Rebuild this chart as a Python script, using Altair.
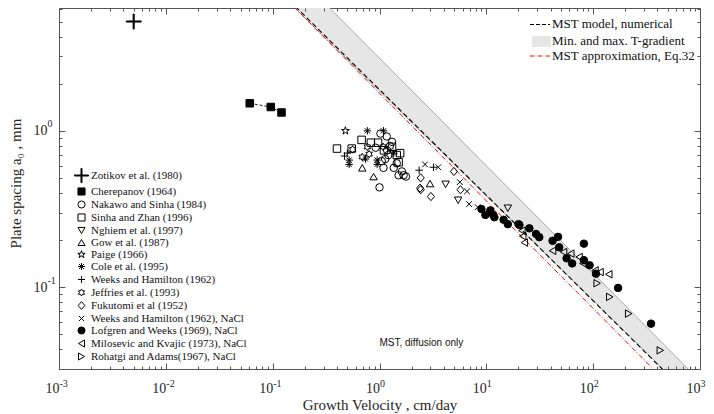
import altair as alt
import pandas as pd

SERIF = "Liberation Serif"
SANS = "Liberation Sans"

SERIES = [
    "Zotikov et al. (1980)", "Cherepanov (1964)", "Nakawo and Sinha (1984)",
    "Sinha and Zhan (1996)", "Nghiem et al. (1997)", "Gow et al. (1987)",
    "Paige (1966)", "Cole et al. (1995)", "Weeks and Hamilton (1962)",
    "Jeffries et al. (1993)", "Fukutomi et al (1952)",
    "Weeks and Hamilton (1962), NaCl", "Lofgren and Weeks (1969), NaCl",
    "Milosevic and Kvajic (1973), NaCl", "Rohatgi and Adams(1967), NaCl",
]

PLUS_BIG = "M-2,-0.14L2,-0.14L2,0.14L-2,0.14ZM-0.14,-2L0.14,-2L0.14,2L-0.14,2Z"
PLUS = "M-1,0L1,0M0,-1L0,1"
CROSS = "M-0.75,-0.75L0.75,0.75M-0.75,0.75L0.75,-0.75"
ASTER = "M-1,0L1,0M0,-1L0,1M-0.7,-0.7L0.7,0.7M-0.7,0.7L0.7,-0.7"
PENTA = ("M0,-1.1L0.246,-0.338L1.046,-0.34L0.398,0.129L0.647,0.89L0,0.418"
         "L-0.647,0.89L-0.398,0.129L-1.046,-0.34L-0.246,-0.338Z")
HEXA = ("M0,-1L0.289,-0.5L0.866,-0.5L0.577,0L0.866,0.5L0.289,0.5L0,1"
        "L-0.289,0.5L-0.866,0.5L-0.577,0L-0.866,-0.5L-0.289,-0.5Z")
DIAM = "M0,-1.1L0.95,0L0,1.1L-0.95,0Z"

SHAPES = [PLUS_BIG, "square", "circle", "square", "triangle-down", "triangle-up",
          PENTA, ASTER, PLUS, HEXA, DIAM, CROSS, "circle", "triangle-left",
          "triangle-right"]
FILLS = ["black", "black", "transparent", "transparent", "transparent",
         "transparent", "transparent", "transparent", "transparent",
         "transparent", "transparent", "transparent", "black", "transparent",
         "transparent"]
STROKES = ["black"] * len(SERIES)

# ---- data ----
ZOT_X = [0.005]
ZOT_Y = [5.0]
CHE_X = [0.061, 0.096, 0.121]
CHE_Y = [1.50, 1.42, 1.31]
NAK_X = [1.02, 1.17, 1.31, 1.25, 1.05, 1.09, 1.36, 1.51, 1.68, 1.77, 1.62, 1.00,
         1.13, 0.92, 1.45, 1.18, 1.21]
NAK_Y = [0.96, 0.92, 0.85, 0.80, 0.64, 0.58, 0.58, 0.52, 0.52, 0.51, 0.55, 0.435,
         0.66, 0.78, 0.62, 0.75, 0.70]
SIN_X = [0.40, 0.68, 0.83, 0.97, 0.55, 1.56, 1.51, 1.31, 1.45, 1.10]
SIN_Y = [0.77, 0.875, 0.84, 0.84, 0.77, 0.72, 0.63, 0.79, 0.70, 0.75]
NGH_X = [4.16, 5.45, 15.9]
NGH_Y = [0.455, 0.36, 0.32]
GOW_X = [0.69, 0.88, 2.97]
GOW_Y = [0.58, 0.51, 0.46]
PAI_X = [0.48]
PAI_Y = [1.0]
COL_X = [0.77, 1.09, 1.36, 0.52, 0.52, 0.95, 0.74, 0.95]
COL_Y = [1.0, 1.0, 0.72, 0.65, 0.61, 0.65, 0.66, 0.61]
WEE_X = [0.50, 0.47, 2.35, 3.2]
WEE_Y = [0.72, 0.69, 0.56, 0.585]
JEF_X = [0.77, 0.69, 1.08, 0.56, 0.80]
JEF_Y = [0.79, 0.68, 0.79, 0.76, 0.71]
FUK_X = [2.43, 2.40, 2.43, 3.03, 4.97, 5.73]
FUK_Y = [0.50, 0.43, 0.42, 0.38, 0.55, 0.42]
WNA_X = [2.67, 3.55, 5.65, 6.6, 6.9, 8.3]
WNA_Y = [0.61, 0.585, 0.47, 0.41, 0.34, 0.325]
LOF_X = [9.0, 9.8, 10.9, 11.6, 11.9, 14.5, 15.9, 20.0, 20.4, 25.3, 29.2, 31.3,
         41.7, 46.9, 48.1, 56.4, 63.6, 81.9, 81.9, 92.6, 106.2, 171.0, 348.0]
LOF_Y = [0.316, 0.29, 0.31, 0.29, 0.28, 0.27, 0.253, 0.253, 0.25, 0.238, 0.219,
         0.209, 0.198, 0.21, 0.18, 0.153, 0.142, 0.19, 0.149, 0.138, 0.122,
         0.099, 0.0585]
MIL_X = [21.5, 21.9, 22.7, 41.7, 52.8, 61.8, 73.8, 80.0, 104.0, 116.0, 140.0]
MIL_Y = [0.23, 0.212, 0.193, 0.171, 0.168, 0.164, 0.156, 0.142, 0.128, 0.125,
         0.121]
ROH_X = [109.0, 143.0, 215.0, 425.0]
ROH_Y = [0.106, 0.0867, 0.0678, 0.0395]

POINTS_X = [ZOT_X, CHE_X, NAK_X, SIN_X, NGH_X, GOW_X, PAI_X, COL_X, WEE_X,
            JEF_X, FUK_X, WNA_X, LOF_X, MIL_X, ROH_X]
POINTS_Y = [ZOT_Y, CHE_Y, NAK_Y, SIN_Y, NGH_Y, GOW_Y, PAI_Y, COL_Y, WEE_Y,
            JEF_Y, FUK_Y, WNA_Y, LOF_Y, MIL_Y, ROH_Y]

# model lines (end readings)
BAND_X = [0.1, 1000.0]
BAND_LO = [8.4, 0.0176]
BAND_HI = [14.2, 0.0252]
NUM_X = [0.1, 1000.0]
NUM_Y = [8.68, 0.0173]
APX_X = [0.1, 1000.0]
APX_Y = [8.49, 0.0150]

NOTE_X = [1.0]
NOTE_Y = [0.044]
NOTE_T = ["MST, diffusion only"]

LINE_LEGEND = ["MST model, numerical", "Min. and max. T-gradient",
               "MST approximation, Eq.32"]

X_MAJOR = [0.001, 0.01, 0.1, 1.0, 10.0, 100.0, 1000.0]
X_MINOR = [m * 10.0 ** e for e in range(-3, 3) for m in range(2, 10)]
Y_MAJOR = [0.1, 1.0]
Y_MINOR = [v for v in (m * 10.0 ** e for e in (-2, -1, 0) for m in range(2, 10))
           if 0.029 <= v <= 6.2]

W, H = 641, 361
XS = alt.Scale(type="log", domain=[0.001, 1000], nice=False)
YS = alt.Scale(type="log", domain=[0.03, 6.1], nice=False)
TICKC = "#555555"
LABC = "#262626"

rows = []
for s, xs, ys in zip(SERIES, POINTS_X, POINTS_Y):
    for a, b in zip(xs, ys):
        rows.append({"series": s, "v": a, "a0": b})
pts_df = pd.DataFrame(rows)


def tick_axis(orient, offset, values, size):
    return alt.Axis(orient=orient, offset=offset, values=values, tickSize=size,
                    labels=False, domain=False, grid=False, title=None,
                    tickColor=TICKC, tickWidth=1, zindex=1)


# 1. band with "10" labels and titles
band = alt.Chart(pd.DataFrame({"v": BAND_X, "lo": BAND_LO, "hi": BAND_HI})).mark_area(
    clip=True, fill="#e6e6e6", stroke="#8a8a8a", strokeWidth=0.7
).encode(
    x=alt.X("v:Q", scale=XS, axis=alt.Axis(
        orient="bottom", values=X_MAJOR, labelExpr="'10'", labelAlign="right",
        labelBaseline="alphabetic", labelPadding=23, tickSize=0, ticks=False,
        domain=False, grid=False, labelFlush=False, labelOverlap=False,
        labelFont=SERIF, labelFontSize=14, labelColor=LABC,
        title="Growth Velocity , cm/day", titleFont=SERIF, titleFontSize=15,
        titleFontWeight="normal", titleColor=LABC, titleY=40,
        titleBaseline="alphabetic")),
    y=alt.Y("lo:Q", scale=YS, axis=alt.Axis(
        orient="left", values=Y_MAJOR, labelExpr="'10'", labelAlign="right",
        labelBaseline="middle", labelPadding=12, tickSize=0, ticks=False,
        domain=False, grid=False, labelFlush=False, labelOverlap=False,
        labelFont=SERIF, labelFontSize=14, labelColor=LABC,
        title="Plate spacing a\u2080 , mm", titleFont=SERIF, titleFontSize=15,
        titleFontWeight="normal", titleColor=LABC, titleX=-39, titleY=175,
        titleBaseline="alphabetic")),
    y2="hi:Q",
)

# 2. numerical model (dashed)
num = alt.Chart(pd.DataFrame({"v": NUM_X, "a0": NUM_Y})).mark_line(
    clip=True, color="black", strokeDash=[5, 3], strokeWidth=1.1
).encode(
    x=alt.X("v:Q", scale=XS, axis=tick_axis("top", -H, X_MAJOR, 6)),
    y=alt.Y("a0:Q", scale=YS, axis=tick_axis("right", -W, Y_MAJOR, 6)),
)

# 3. approximation (red dash-dot)
apx = alt.Chart(pd.DataFrame({"v": APX_X, "a0": APX_Y})).mark_line(
    clip=True, color="#ff0000", strokeDash=[5, 2, 1, 2], strokeWidth=1
).encode(
    x=alt.X("v:Q", scale=XS, axis=tick_axis("top", -H, X_MINOR, 3)),
    y=alt.Y("a0:Q", scale=YS, axis=tick_axis("right", -W, Y_MINOR, 3)),
)

# 4. Cherepanov connecting line
che = alt.Chart(pd.DataFrame({"v": CHE_X, "a0": CHE_Y})).mark_line(
    color="black", strokeDash=[3, 2], strokeWidth=0.9
).encode(
    x=alt.X("v:Q", scale=XS, axis=tick_axis("bottom", -H, X_MAJOR, 6)),
    y=alt.Y("a0:Q", scale=YS, axis=tick_axis("left", -W, Y_MAJOR, 6)),
)

# 5. points
leg = alt.Legend(orient="none", legendX=17, legendY=162, title=None)
pts = alt.Chart(pts_df).mark_point(
    filled=False, strokeWidth=1, opacity=1, size=56
).encode(
    x=alt.X("v:Q", scale=XS, axis=tick_axis("bottom", -H, X_MINOR, 3)),
    y=alt.Y("a0:Q", scale=YS, axis=tick_axis("left", -W, Y_MINOR, 3)),
    shape=alt.Shape("series:N", scale=alt.Scale(domain=SERIES, range=SHAPES), legend=leg),
    fill=alt.Fill("series:N", scale=alt.Scale(domain=SERIES, range=FILLS), legend=leg),
    stroke=alt.Stroke("series:N", scale=alt.Scale(domain=SERIES, range=STROKES), legend=leg),
)

# 6. annotation with exponent labels
note = alt.Chart(pd.DataFrame({"v": NOTE_X, "a0": NOTE_Y, "t": NOTE_T})).mark_text(
    align="left", baseline="middle", font=SANS, fontSize=10, color="#111111"
).encode(
    x=alt.X("v:Q", scale=XS, axis=alt.Axis(
        orient="bottom", values=X_MAJOR,
        labelExpr="'' + round(log(datum.value) / LN10)",
        labelAlign="left", labelBaseline="alphabetic", labelPadding=17,
        tickSize=0, ticks=False, domain=False, grid=False, labelFlush=False,
        labelOverlap=False, labelFont=SERIF, labelFontSize=10, labelColor=LABC,
        title=None)),
    y=alt.Y("a0:Q", scale=YS, axis=alt.Axis(
        orient="left", values=Y_MAJOR,
        labelExpr="'' + round(log(datum.value) / LN10)",
        labelAlign="left", labelBaseline="middle", labelPadding=12, labelOffset=-7,
        tickSize=0, ticks=False, domain=False, grid=False, labelFlush=False,
        labelOverlap=False, labelFont=SERIF, labelFontSize=10, labelColor=LABC,
        title=None)),
    text="t:N",
)

# 7. legend for the model curves
one = pd.DataFrame({"k": [0]})
l_num = alt.Chart(one).mark_rule(color="black", strokeDash=[4, 2], strokeWidth=1.1).encode(
    x=alt.value(471), x2=alt.value(491), y=alt.value(16.5))
l_band = alt.Chart(one).mark_rect(fill="#e6e6e6").encode(
    x=alt.value(473), x2=alt.value(492), y=alt.value(28), y2=alt.value(39))
l_apx = alt.Chart(one).mark_rule(color="#ff0000", strokeDash=[4, 1.5, 1, 1.5], strokeWidth=1).encode(
    x=alt.value(471), x2=alt.value(491), y=alt.value(48))
l_txt = [
    alt.Chart(one).mark_text(align="left", baseline="middle", font=SERIF,
                             fontSize=13, color="#111111").encode(
        x=alt.value(493), y=alt.value(yy), text=alt.value(lab))
    for lab, yy in zip(LINE_LEGEND, [16, 32.5, 47.5])
]

chart = alt.layer(band, num, apx, che, pts, note, l_num, l_band, l_apx, *l_txt).resolve_axis(
    x="independent", y="independent"
).properties(
    width=W, height=H,
    padding={"left": 51, "top": 0, "right": 6, "bottom": 45},
    autosize=alt.AutoSizeParams(type="none"),
    background="white",
).configure_view(
    stroke=TICKC, strokeWidth=1
).configure_legend(
    labelFont=SERIF, labelFontSize=11, labelColor="#111111",
    symbolSize=50, symbolStrokeWidth=1, rowPadding=0, labelOffset=4,
    padding=0, symbolOpacity=1,
)

chart.save("out.html", embed_options={"renderer": "svg", "actions": False})
